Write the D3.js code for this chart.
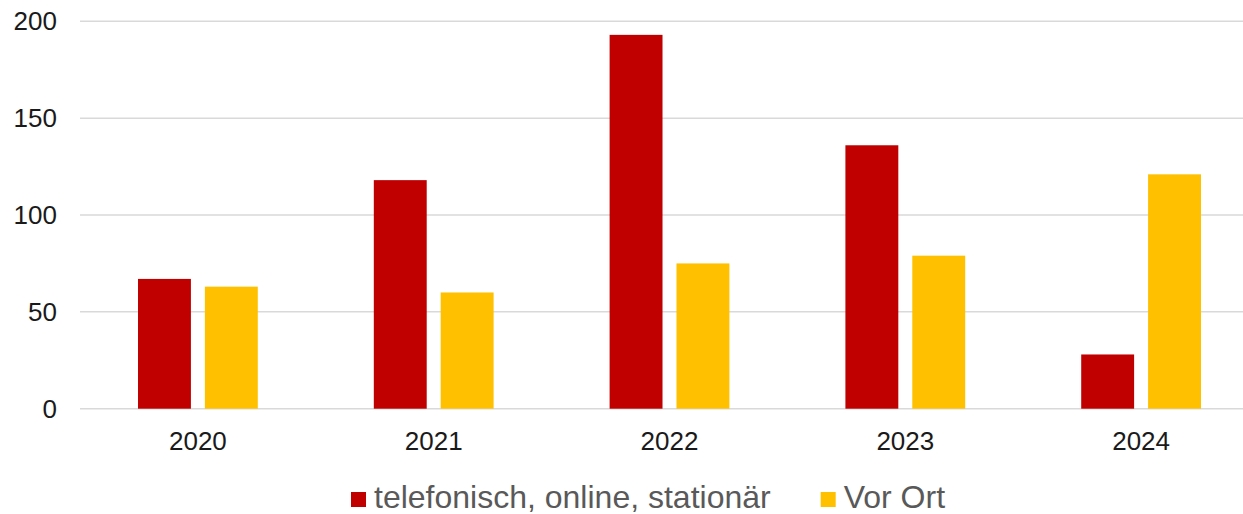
<!DOCTYPE html>
<meta charset="utf-8">
<script src="https://d3js.org/d3.v7.min.js"></script>
<style>
  body { margin: 0; background: #fff; }
  text { font-family: "Liberation Sans", Arial, sans-serif; }
</style>
<body>
<div id="chart"></div>
<script>
// data
const years = ["2020", "2021", "2022", "2023", "2024"];
const seriesNames = ["telefonisch, online, stationär", "Vor Ort"];
const remote = [67, 118, 193, 136, 28];
const onSite = [63, 60, 75, 79, 121];
const yTicks = [0, 50, 100, 150, 200];
const colors = ["#C00000", "#FFC000"];

const W = 1243, H = 514;
const plot = {left: 80, right: 1259, top: 21.3, bottom: 408.7};

const svg = d3.select("#chart").append("svg")
  .attr("width", W)
  .attr("height", H);

const y = d3.scaleLinear()
  .domain([0, 200])
  .range([plot.bottom, plot.top]);

const x0 = d3.scaleBand()
  .domain(years)
  .range([plot.left, plot.right]);

// two bars per year, with a gap between them
const bw = x0.bandwidth();
const x1 = d3.scaleBand()
  .domain([0, 1])
  .range([bw * 0.246, bw * 0.754])
  .paddingInner(0.209);

// gridlines
svg.append("g")
  .selectAll("line")
  .data(yTicks)
  .join("line")
    .attr("x1", plot.left)
    .attr("x2", W)
    .attr("y1", d => y(d))
    .attr("y2", d => y(d))
    .attr("stroke", "#d9d9d9")
    .attr("stroke-width", 1.5);

// y axis labels
const yAxis = svg.append("g")
  .attr("transform", "translate(57,0)")
  .call(d3.axisLeft(y).tickValues(yTicks).tickSize(0).tickPadding(0));
yAxis.select(".domain").remove();
yAxis.selectAll("text")
  .attr("font-size", 26)
  .attr("fill", "#1a1a1a")
  .attr("font-family", "'Liberation Sans', Arial, sans-serif");

// x axis labels
const xAxis = svg.append("g")
  .attr("transform", `translate(0,${plot.bottom})`)
  .call(d3.axisBottom(x0).tickSize(0).tickPadding(23));
xAxis.select(".domain").remove();
xAxis.selectAll("text")
  .attr("font-size", 26)
  .attr("fill", "#1a1a1a")
  .attr("font-family", "'Liberation Sans', Arial, sans-serif");

// bars
const rows = years.map((yr, i) => ({year: yr, values: [remote[i], onSite[i]]}));

svg.append("g")
  .selectAll("g")
  .data(rows)
  .join("g")
    .attr("transform", d => `translate(${x0(d.year)},0)`)
  .selectAll("rect")
  .data(d => d.values.map((v, k) => ({k, v})))
  .join("rect")
    .attr("x", d => x1(d.k))
    .attr("y", d => y(d.v))
    .attr("width", x1.bandwidth())
    .attr("height", d => y(0) - y(d.v))
    .attr("fill", d => colors[d.k]);

// legend, items laid out one after the other
const legend = svg.append("g");
let lx = 351;
seriesNames.forEach((name, i) => {
  legend.append("rect")
    .attr("x", lx)
    .attr("y", 492)
    .attr("width", 15)
    .attr("height", 15)
    .attr("fill", colors[i]);
  const t = legend.append("text")
    .attr("x", lx + 23)
    .attr("y", 508)
    .attr("font-size", 32)
    .attr("fill", "#595959")
    .text(name);
  lx += 23 + t.node().getComputedTextLength() + 50;
});
</script>
</body>
